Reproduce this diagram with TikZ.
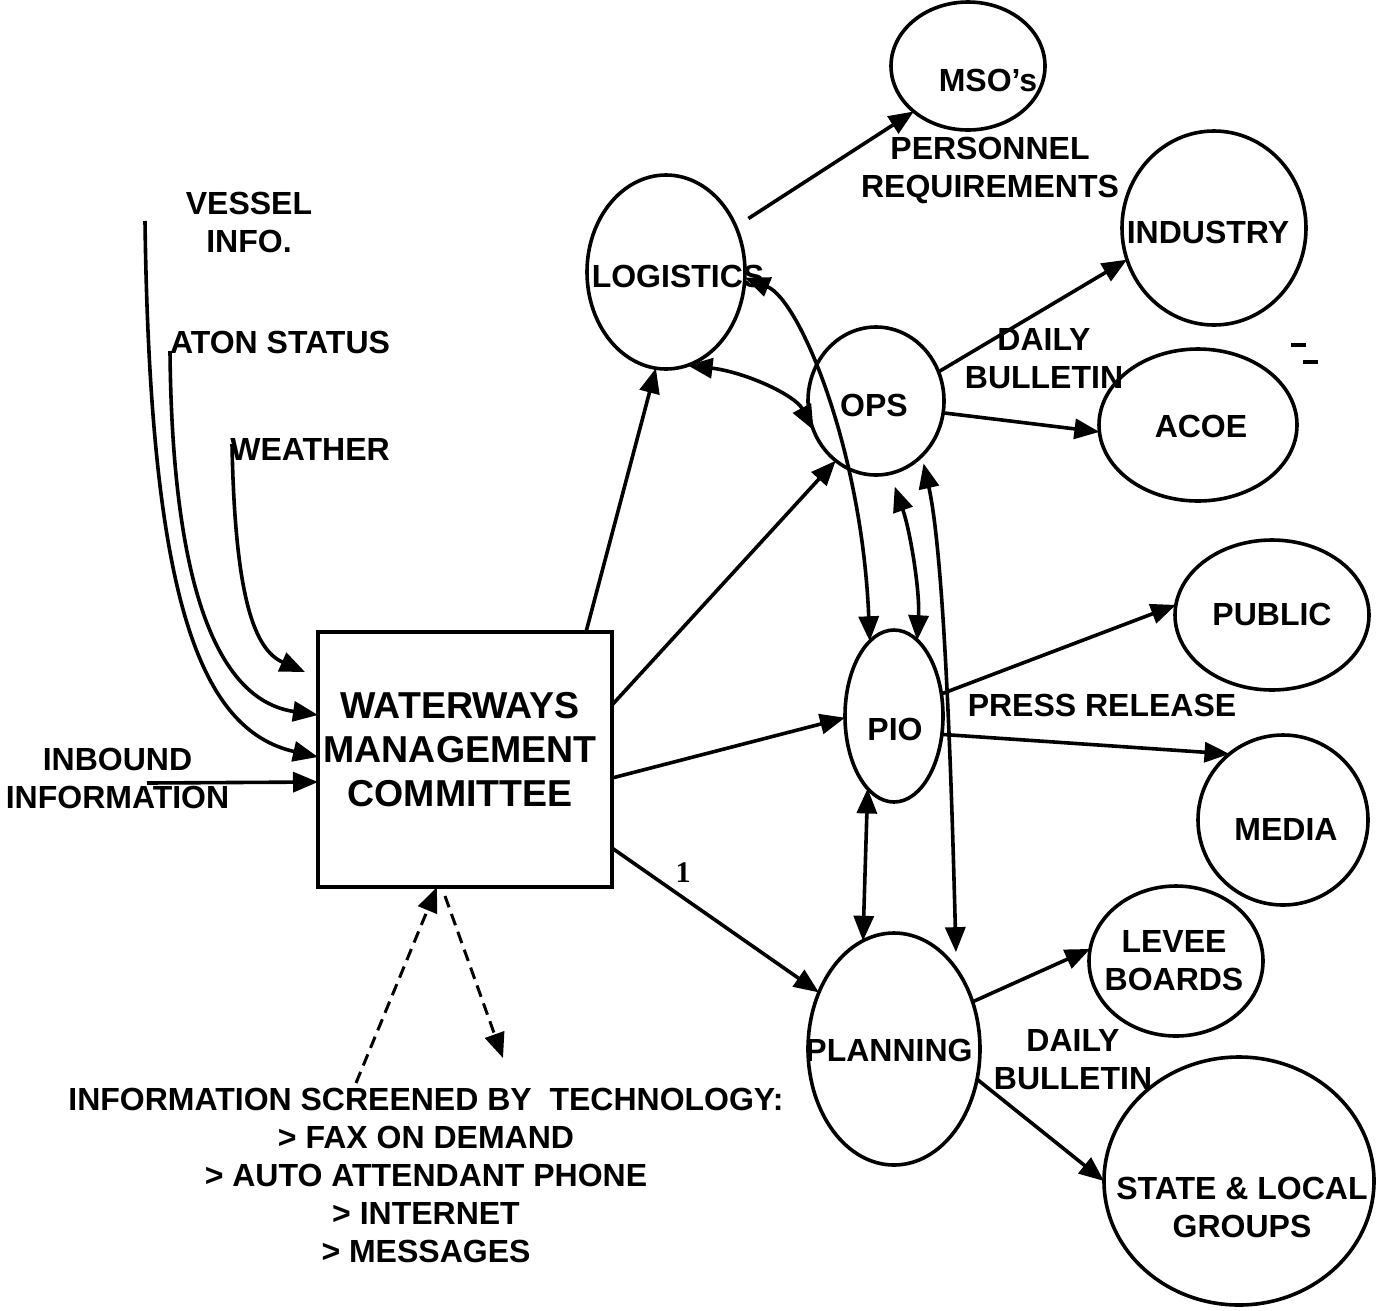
\documentclass[tikz,border=0pt]{standalone}
\usepackage{fontspec}
\setmainfont{Liberation Sans}
\newfontfamily\serifone{Liberation Serif}
\usetikzlibrary{shapes.geometric,arrows.meta}
\begin{document}
\begin{tikzpicture}[x=1pt,y=-1pt,line width=3.6pt,
  tip/.style={-{Triangle[length=25pt,width=20pt]}},
  dtip/.style={{Triangle[length=25pt,width=20pt]}-{Triangle[length=25pt,width=20pt]}},
  dsh/.style={line width=3pt,dash pattern=on 12pt off 7pt},
  ell/.style={draw,ellipse,inner sep=0pt,outer sep=0pt,line width=3.6pt},
  lbl/.style={font=\fontsize{32}{38}\selectfont\bfseries,align=center,inner sep=0pt},
  big/.style={font=\fontsize{37.5}{44}\selectfont\bfseries,align=center,inner sep=0pt},
  one/.style={font=\fontsize{30}{32}\serifone\bfseries,inner sep=0pt}]
\fill[white] (0,0) rectangle (1376,1310);
\useasboundingbox (0,0) rectangle (1376,1310);

% ellipses
\node[ell,minimum width=154pt,minimum height=128pt] (mso) at (968,66) {};
\node[ell,minimum width=184pt,minimum height=194pt] (ind) at (1214,228) {};
\node[ell,minimum width=198pt,minimum height=152pt] (acoe) at (1198,425) {};
\node[ell,minimum width=136pt,minimum height=148pt] (ops) at (876,401) {};
\node[ell,minimum width=158pt,minimum height=194pt] (log) at (666,272) {};
\node[ell,minimum width=98pt,minimum height=172pt] (pio) at (894,716) {};
\node[ell,minimum width=172pt,minimum height=232pt] (plan) at (894,1049) {};
\node[ell,minimum width=194pt,minimum height=150pt] (pub) at (1272,615) {};
\node[ell,minimum width=170pt,minimum height=170pt] (media) at (1283,820) {};
\node[ell,minimum width=174pt,minimum height=150pt] (lev) at (1176,961) {};
\node[ell,minimum width=270pt,minimum height=248pt] (st) at (1239,1181) {};

% box
\node[draw,minimum width=294pt,minimum height=255pt,inner sep=0pt,outer sep=0pt] (box) at (465,759.5) {};

% texts
\node[lbl] (tmso) at (988,80) {MSO’s};
\node[lbl] (tpers) at (990,170) {PERSONNEL\\REQUIREMENTS};
\node[lbl] (tind) at (1208,232) {INDUSTRY};
\node[lbl] (tdb1) at (1044,359) {DAILY\\BULLETIN};
\node[lbl] (tacoe) at (1201,426) {ACOE};
\node[lbl] (tops) at (874,405) {OPS};
\node[lbl] (tlog) at (678,276) {LOGISTICS};
\node[lbl] (tpio) at (895,729) {PIO};
\node[lbl] (tplan) at (889,1050) {PLANNING};
\node[lbl] (tpub) at (1272,614) {PUBLIC};
\node[lbl] (tpress) at (1102,705) {PRESS RELEASE};
\node[lbl] (tmedia) at (1286,829) {MEDIA};
\node[lbl] (tlev) at (1174,960.5) {LEVEE\\BOARDS};
\node[lbl] (tdb2) at (1073,1059.5) {DAILY\\BULLETIN};
\node[lbl] (tst) at (1242,1207) {STATE \& LOCAL\\GROUPS};
\node[big] (tbox) at (460,750) {WATERWAYS\\MANAGEMENT\\COMMITTEE};
\node[lbl] (tinb) at (117.5,778.5) {INBOUND\\INFORMATION};
\node[lbl] (tves) at (249,222) {VESSEL\\INFO.};
\node[lbl] (taton) at (280,342) {ATON STATUS};
\node[lbl] (twea) at (310,449) {WEATHER};
\node[lbl] (ttech) at (426,1175) {INFORMATION SCREENED BY\ \ TECHNOLOGY:\\> FAX ON DEMAND\\> AUTO ATTENDANT PHONE\\> INTERNET\\> MESSAGES};
\node[one] (n1) at (683,873) {1};

% free ends
\coordinate (vs) at (145,221);
\coordinate (at) at (170,351);
\coordinate (we) at (232,444);
\coordinate (weE) at (305,672);
\coordinate (inb) at (147,783);
\coordinate (dsA) at (356,1083);
\coordinate (dsB) at (503,1058);
\coordinate (dsC) at (445,896);

% inputs
\draw[tip] (vs) .. controls (150,600) and (200,730) .. ([yshift=-125pt]box.north west);
\draw[tip] (at) .. controls (172,580) and (215,700) .. ([yshift=-83pt]box.north west);
\draw[tip] (we) .. controls (235,600) and (255,650) .. (weE);
\draw[tip] (inb) -- ([yshift=-150pt]box.north west);
\draw[tip,dsh] (dsA) -- ([xshift=119pt]box.south west);
\draw[tip,dsh] (dsC) -- (dsB);

% outputs of box
\draw[tip] ([xshift=268pt]box.north west) -- (log.264);
\draw[tip] ([yshift=-73pt]box.north east) -- (ops.236);
\draw[tip] ([yshift=-146pt]box.north east) -- (pio.182);
\draw[tip] ([yshift=-216pt]box.north east) -- (plan.143);

% among ellipses
\draw[tip,shorten <=15pt] (log.33) -- (mso.220);
\draw[tip] (ops.25) -- (ind.200);
\draw[tip] (ops.-10) -- (acoe.184);
\draw[tip] (pio.25) -- (pub.174);
\draw[tip] (pio.-21) -- (media.129);
\draw[tip] (plan.31) -- (lev.172);
\draw[tip] (plan.-20) -- (st.180);

\draw[dtip] (log.-77) .. controls (745,372) and (795,395) .. (ops.205);
\draw[dtip] (log.-4) .. controls (800,300) and (862,450) .. (pio.108);
\draw[dtip,shorten <=14pt] (ops.-79) .. controls (910,530) and (920,590) .. (pio.73);
\draw[dtip,shorten <=8pt,shorten >=17pt] (ops.-50) .. controls (945,560) and (952,800) .. (plan.52);
\draw[dtip] (pio.-110) -- (plan.106);

% scan marks
\draw[line width=4pt] (1291,345) -- (1306,345);
\draw[line width=4pt] (1303,362) -- (1318,362);
\end{tikzpicture}
\end{document}
